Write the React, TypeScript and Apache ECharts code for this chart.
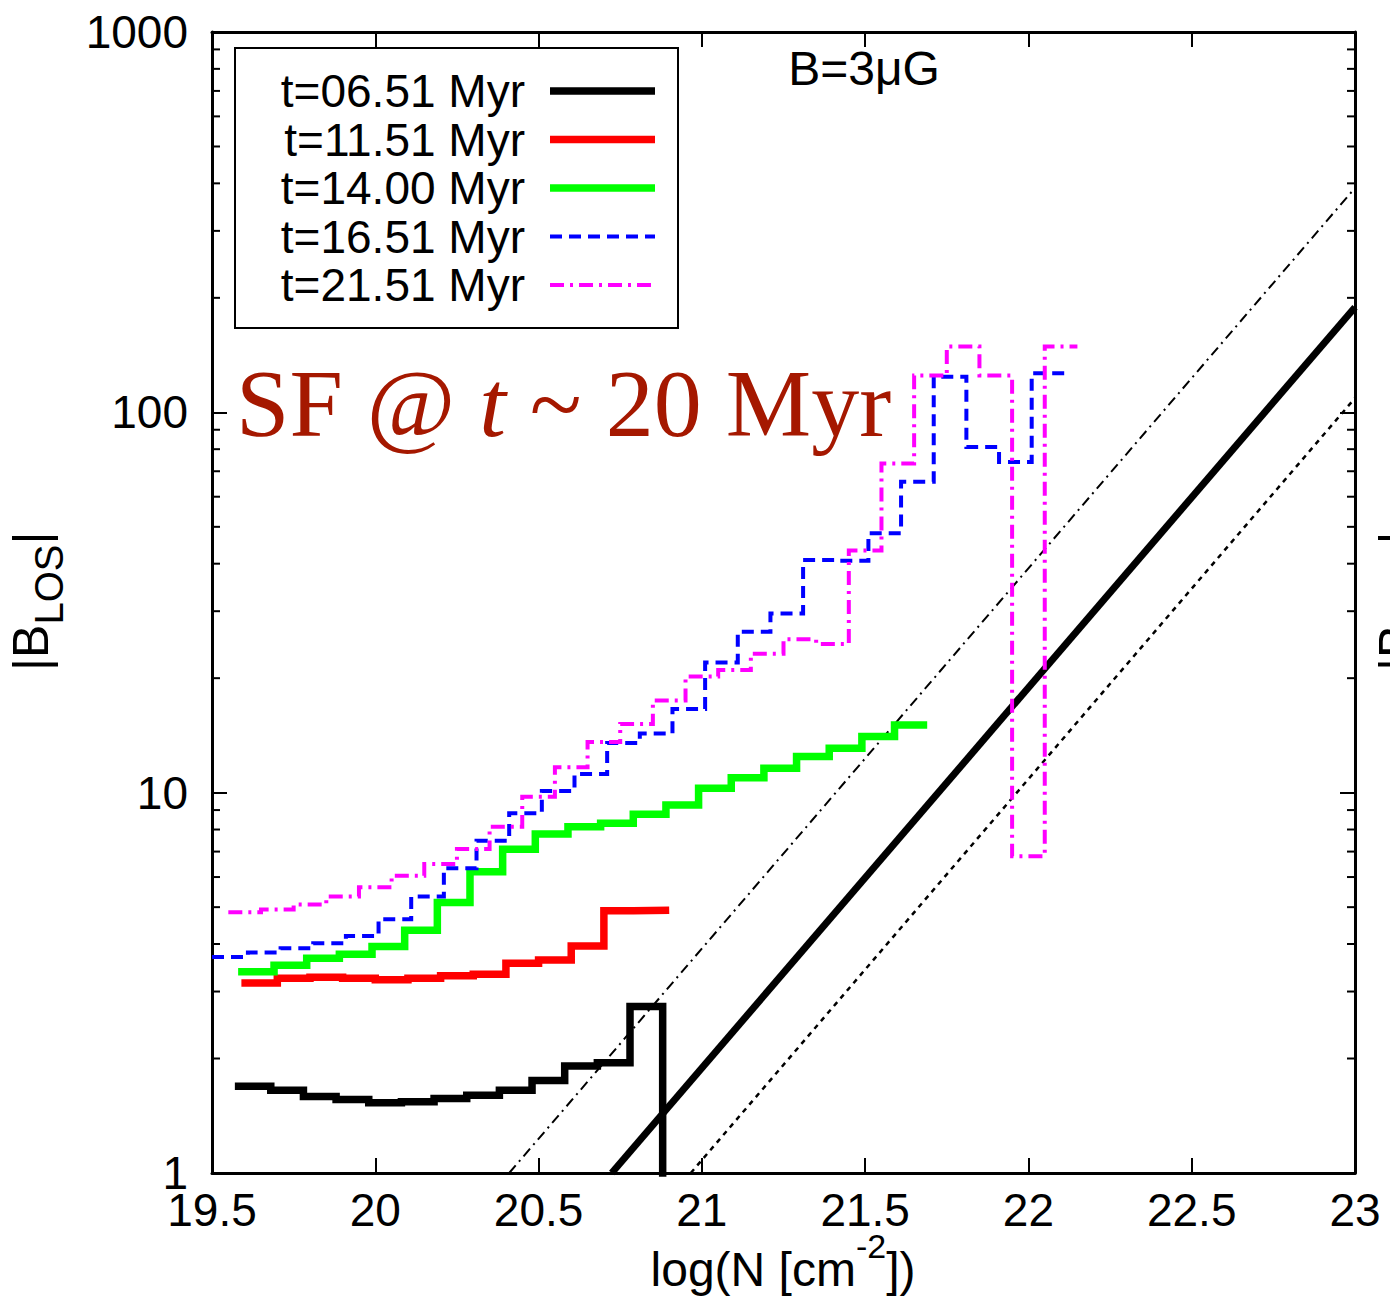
import React, { useEffect, useRef } from 'react';
import * as echarts from 'echarts';

// ---- axes ----
const xMin = 19.5;
const xMax = 23;
const xInterval = 0.5;
const yMin = 1;
const yMax = 1000;
const yMinorTicks = [2, 3, 4, 5, 6, 7, 8, 9, 20, 30, 40, 50, 60, 70, 80, 90, 200, 300, 400, 500, 600, 700, 800, 900];

// ---- series (histogram steps: bin edges + bin values) ----
const seriesNames = ['t=06.51 Myr', 't=11.51 Myr', 't=14.00 Myr', 't=16.51 Myr', 't=21.51 Myr'];

const edgesT0651 = [19.57, 19.68, 19.78, 19.88, 19.98, 20.08, 20.18, 20.28, 20.38, 20.48, 20.58, 20.68, 20.78, 20.88, 20.98];
const valsT0651 = [1.69, 1.65, 1.59, 1.56, 1.53, 1.54, 1.57, 1.60, 1.65, 1.75, 1.91, 1.95, 2.74, 0.5];

const edgesT1151 = [19.59, 19.70, 19.80, 19.90, 20.00, 20.10, 20.20, 20.30, 20.40, 20.50, 20.60, 20.70, 20.79, 20.90];
const valsT1151 = [3.16, 3.25, 3.27, 3.25, 3.22, 3.25, 3.30, 3.33, 3.56, 3.63, 3.95, 4.89, 4.91];

const edgesT1400 = [19.58, 19.69, 19.79, 19.89, 19.99, 20.09, 20.19, 20.29, 20.39, 20.49, 20.59, 20.69, 20.79, 20.89, 20.99, 21.09, 21.19, 21.29, 21.39, 21.49, 21.59, 21.69];
const valsT1400 = [3.38, 3.52, 3.67, 3.76, 3.94, 4.35, 5.14, 6.20, 7.10, 7.79, 8.14, 8.31, 8.77, 9.28, 10.27, 10.95, 11.59, 12.45, 13.09, 14.04, 15.07];

const edgesT1651 = [19.50, 19.61, 19.71, 19.81, 19.91, 20.01, 20.11, 20.21, 20.31, 20.41, 20.51, 20.61, 20.71, 20.81, 20.91, 21.01, 21.11, 21.21, 21.31, 21.41, 21.51, 21.61, 21.71, 21.81, 21.91, 22.01, 22.11];
const valsT1651 = [3.70, 3.80, 3.90, 4.02, 4.20, 4.65, 5.33, 6.33, 7.48, 8.83, 10.1, 11.2, 13.5, 14.3, 16.6, 22.0, 26.5, 29.6, 40.9, 40.7, 48.1, 65.7, 124, 81.1, 74.0, 126.7];

const edgesT2151 = [19.55, 19.65, 19.75, 19.85, 19.95, 20.05, 20.15, 20.25, 20.35, 20.45, 20.55, 20.65, 20.75, 20.85, 20.95, 21.05, 21.15, 21.25, 21.35, 21.45, 21.55, 21.65, 21.75, 21.85, 21.95, 22.05, 22.15];
const valsT2151 = [4.85, 4.93, 5.08, 5.33, 5.64, 6.05, 6.49, 7.11, 8.14, 9.76, 11.66, 13.6, 15.16, 17.46, 20.2, 21.0, 23.2, 25.3, 24.6, 43.3, 73.4, 125, 149, 125, 6.8, 149];

// ---- reference straight lines (end points) ----
const refThickX = [20.724, 23];
const refThickY = [1, 189];
const refDashDotX = [20.41, 23];
const refDashDotY = [1, 389];
const refDottedX = [20.966, 23];
const refDottedY = [1, 109];

const SANS = '"Liberation Sans", Arial, Helvetica, sans-serif';
const SERIF = '"Liberation Serif", "Times New Roman", serif';

const stepColors = ['#000000', '#ff0000', '#00ff00', '#0000ff', '#ff00ff'];
const stepWidths = [7.5, 7.5, 7.5, 4, 4];
const stepDashes: any[] = ['solid', 'solid', 'solid', [12, 7], [14, 6, 3, 6]];

function stepData(edges: number[], vals: number[]) {
  return edges.map((e, i) => [e, vals[Math.min(i, vals.length - 1)]]);
}
function pairData(xs: number[], ys: number[]) {
  return xs.map((x, i) => [x, ys[i]]);
}

export default function App() {
  const ref = useRef<HTMLDivElement>(null);
  useEffect(() => {
    if (!ref.current) return;
    const chart = echarts.init(ref.current, undefined, { renderer: 'svg' });

    const stepSets = [
      [edgesT0651, valsT0651],
      [edgesT1151, valsT1151],
      [edgesT1400, valsT1400],
      [edgesT1651, valsT1651],
      [edgesT2151, valsT2151],
    ];

    const stepSeries = stepSets.map(([e, v], i) => ({
      name: seriesNames[i],
      type: 'line',
      step: 'end',
      data: stepData(e as number[], v as number[]),
      symbol: 'none',
      showSymbol: false,
      clip: true,
      lineStyle: { color: stepColors[i], width: stepWidths[i], type: stepDashes[i], join: 'miter', cap: 'butt' },
      z: 3 + i,
    }));

    const refSeries = [
      { data: pairData(refDashDotX, refDashDotY), width: 2, type: [10, 5, 2, 5] },
      { data: pairData(refThickX, refThickY), width: 7, type: 'solid' },
      { data: pairData(refDottedX, refDottedY), width: 2.5, type: [5, 5] },
    ].map((r) => ({
      type: 'line',
      data: r.data,
      symbol: 'none',
      showSymbol: false,
      clip: true,
      lineStyle: { color: '#000', width: r.width, type: r.type as any, cap: 'butt' },
      z: 2,
    }));

    const minorTickSeries = {
      type: 'custom',
      data: yMinorTicks.map((v) => [xMin, v]),
      encode: { x: 0, y: 1 },
      clip: false,
      silent: true,
      z: 10,
      renderItem: (params: any, api: any) => {
        const v = api.value(1);
        const pL = api.coord([xMin, v]);
        const pR = api.coord([xMax, v]);
        return {
          type: 'group',
          children: [
            { type: 'line', shape: { x1: pL[0], y1: pL[1], x2: pL[0] + 8, y2: pL[1] }, style: { stroke: '#000', lineWidth: 2 } },
            { type: 'line', shape: { x1: pR[0], y1: pR[1], x2: pR[0] - 8, y2: pR[1] }, style: { stroke: '#000', lineWidth: 2 } },
          ],
        };
      },
    };

    const axisCommonX = {
      type: 'value',
      min: xMin,
      max: xMax,
      interval: xInterval,
      splitLine: { show: false },
      axisLine: { show: true, lineStyle: { color: '#000', width: 3 } },
      axisTick: { show: true, inside: true, length: 15, lineStyle: { color: '#000', width: 2 } },
    };
    const axisCommonY = {
      type: 'log',
      logBase: 10,
      min: yMin,
      max: yMax,
      splitLine: { show: false },
      axisLine: { show: true, lineStyle: { color: '#000', width: 3 } },
      axisTick: { show: true, inside: true, length: 15, lineStyle: { color: '#000', width: 2 } },
    };

    const legendRows = seriesNames.map((_, i) => 91 + 48.5 * i);
    const legendGraphics: any[] = [
      { type: 'rect', z: 100, shape: { x: 235, y: 48, width: 443, height: 280 }, style: { fill: '#fff', stroke: '#000', lineWidth: 2 } },
    ];
    seriesNames.forEach((name, i) => {
      legendGraphics.push({
        type: 'text', z: 101, x: 525, y: legendRows[i],
        style: { text: name, fill: '#000', fontSize: 46, fontFamily: SANS, textAlign: 'right', align: 'right', textVerticalAlign: 'middle', verticalAlign: 'middle' },
      });
      const d = stepDashes[i];
      legendGraphics.push({
        type: 'line', z: 101,
        shape: { x1: 550, y1: legendRows[i], x2: 655, y2: legendRows[i] },
        style: { stroke: stepColors[i], lineWidth: stepWidths[i], lineDash: Array.isArray(d) ? d : null, lineCap: 'butt' },
      });
    });

    const yLabel = (cx: number) => ({
      type: 'group', x: cx, y: 671, rotation: Math.PI / 2, z: 100,
      children: [
        { type: 'text', x: 0, y: 0, style: { text: '|B', fill: '#000', fontSize: 50, fontFamily: SANS, textAlign: 'left', align: 'left', textVerticalAlign: 'middle', verticalAlign: 'middle' } },
        { type: 'text', x: 46.4, y: 18, style: { text: 'LOS', fill: '#000', fontSize: 40, fontFamily: SANS, textAlign: 'left', align: 'left', textVerticalAlign: 'middle', verticalAlign: 'middle' } },
        { type: 'text', x: 126.4, y: 0, style: { text: '|', fill: '#000', fontSize: 50, fontFamily: SANS, textAlign: 'left', align: 'left', textVerticalAlign: 'middle', verticalAlign: 'middle' } },
      ],
    });

    const option: any = {
      animation: false,
      grid: { left: 212, right: 35, top: 32, bottom: 127, containLabel: false },
      xAxis: [
        {
          ...axisCommonX,
          position: 'bottom',
          axisLabel: { show: true, margin: 14, color: '#000', fontSize: 46, fontFamily: SANS, formatter: (v: number) => String(v) },
        },
        { ...axisCommonX, position: 'top', axisLabel: { show: false } },
      ],
      yAxis: [
        {
          ...axisCommonY,
          position: 'left',
          axisLabel: { show: true, margin: 24, color: '#000', fontSize: 46, fontFamily: SANS, formatter: (v: number) => String(v) },
        },
        { ...axisCommonY, position: 'right', axisLabel: { show: false } },
      ],
      series: [...refSeries, ...stepSeries, minorTickSeries],
      graphic: [
        ...legendGraphics,
        {
          type: 'text', z: 100, x: 864, y: 68,
          style: { text: 'B=3μG', fill: '#000', fontSize: 48, fontFamily: SANS, textAlign: 'center', align: 'center', textVerticalAlign: 'middle', verticalAlign: 'middle' },
        },
        {
          type: 'text', z: 100, x: 236, y: 403,
          style: {
            text: '{a|SF @ }{b|t}{a| ~ 20 Myr}',
            textAlign: 'left', align: 'left', textVerticalAlign: 'middle', verticalAlign: 'middle',
            fill: '#a51800', fontSize: 96, fontFamily: SERIF,
            rich: {
              a: { fontSize: 96, fontFamily: SERIF, fill: '#a51800', color: '#a51800' },
              b: { fontSize: 96, fontFamily: SERIF, fontStyle: 'italic', fill: '#a51800', color: '#a51800' },
            },
          },
        },
        {
          type: 'text', z: 100, x: 783, y: 1269,
          style: {
            text: '{a|log(N [cm}{s|-2}{a|])}',
            textAlign: 'center', align: 'center', textVerticalAlign: 'middle', verticalAlign: 'middle',
            fill: '#000', fontSize: 48, fontFamily: SANS,
            rich: {
              a: { fontSize: 48, fontFamily: SANS, lineHeight: 80, fill: '#000', color: '#000' },
              s: { fontSize: 34, fontFamily: SANS, lineHeight: 34, verticalAlign: 'top', fill: '#000', color: '#000' },
            },
          },
        },
        yLabel(31),
        yLabel(1397),
      ],
    };
    chart.setOption(option);
    return () => chart.dispose();
  }, []);

  return <div ref={ref} style={{ position: 'absolute', left: 0, top: 0, width: 1390, height: 1300, background: '#fff' }} />;
}
